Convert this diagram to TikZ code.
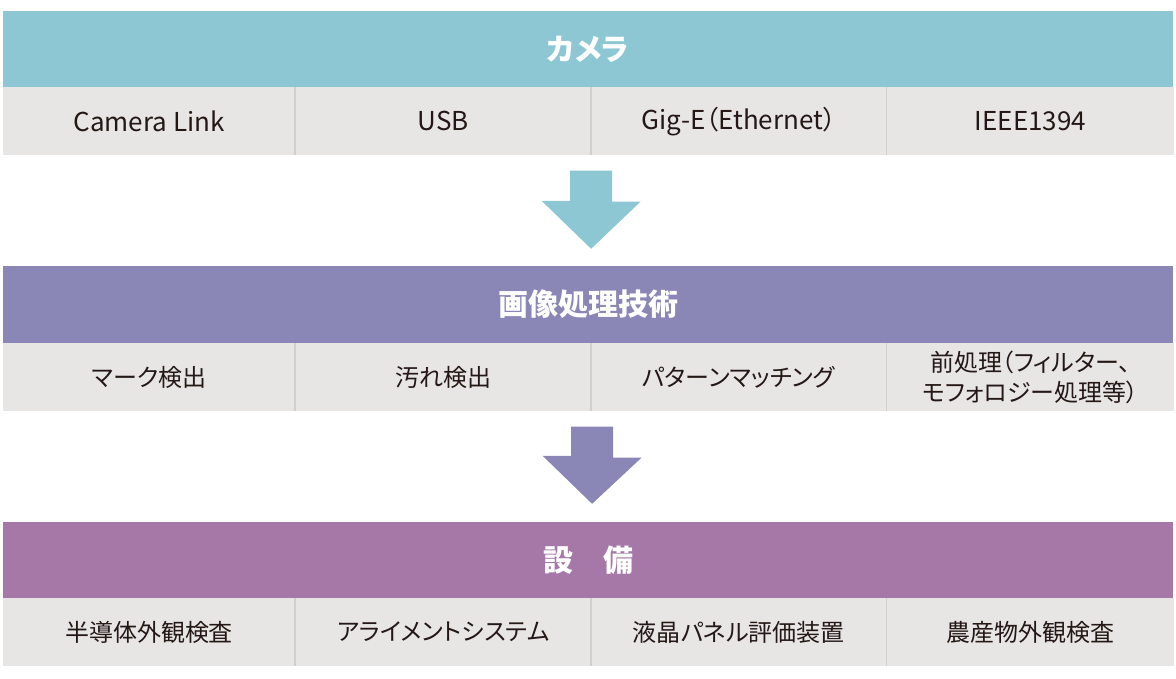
\documentclass[tikz,border=0pt]{standalone}
\usepackage{fontspec}
\setmainfont{Noto Sans CJK JP}[RawFeature=+palt]
\usetikzlibrary{positioning,calc}
\definecolor{camcol}{HTML}{8CC7D3}
\definecolor{imgcol}{HTML}{8A86B5}
\definecolor{equcol}{HTML}{A678A8}
\definecolor{cellgray}{HTML}{E8E6E5}
\definecolor{divcol}{HTML}{D2D0CE}
\definecolor{txtcol}{HTML}{231815}

\begin{document}
\begin{tikzpicture}[
            x=1pt, y=-1pt,
            node distance=0pt,
            header/.style={rectangle, inner sep=0pt, minimum width=1170pt, minimum height=76pt, text=white, font=\fontsize{30}{34}\selectfont\bfseries},
            cell/.style={rectangle, fill=cellgray, inner sep=0pt, minimum height=67.5pt, align=center, text=txtcol, font=\fontsize{24}{30}\selectfont},
            latin/.style={cell, font=\fontsize{26}{30}\selectfont},
            divider/.style={draw=divcol, line width=1.5pt},
            wA/.style={minimum width=292pt},
            wB/.style={minimum width=295.5pt},
            wC/.style={minimum width=295pt},
            wD/.style={minimum width=287.5pt}
        ]
            \useasboundingbox (0,0) rectangle (1176,678);

            % --- CAMERA ---
            \node[header, fill=camcol] (cam) at (588,49) {カメラ};
            \node[latin, wA, anchor=north west] (camA) at (cam.south west) {Camera Link};
            \node[latin, wB, right=of camA] (camB) {USB};
            \node[latin, wC, right=of camB] (camC) {Gig-E（Ethernet）};
            \node[latin, wD, right=of camC] (camD) {IEEE1394};

            % --- IMAGE PROCESSING ---
            \node[header, fill=imgcol, minimum height=77pt] (img) at (588,304.5) {画像処理技術};
            \node[cell, wA, anchor=north west] (imgA) at (img.south west) {マーク検出};
            \node[cell, wB, right=of imgA] (imgB) {汚れ検出};
            \node[cell, wC, right=of imgB] (imgC) {パターンマッチング};
            \node[cell, wD, right=of imgC] (imgD) {前処理（フィルター、\\モフォロジー処理等）};

            % --- EQUIPMENT ---
            \node[header, fill=equcol] (equ) at (588,560) {設\hspace{1em}備};
            \node[cell, wA, anchor=north west] (equA) at (equ.south west) {半導体外観検査};
            \node[cell, wB, right=of equA] (equB) {アライメントシステム};
            \node[cell, wC, right=of equB] (equC) {液晶パネル評価装置};
            \node[cell, wD, right=of equC] (equD) {農産物外観検査};

            % dividers
            \draw[divider] (camA.north east) -- (camA.south east);
            \draw[divider] (camB.north east) -- (camB.south east);
            \draw[divider] (camC.north east) -- (camC.south east);
            \draw[divider] (imgA.north east) -- (imgA.south east);
            \draw[divider] (imgB.north east) -- (imgB.south east);
            \draw[divider] (imgC.north east) -- (imgC.south east);
            \draw[divider] (equA.north east) -- (equA.south east);
            \draw[divider] (equB.north east) -- (equB.south east);
            \draw[divider] (equC.north east) -- (equC.south east);

            % --- ARROWS ---
            \coordinate (camOut) at ([yshift=-15.5pt]camC.south west);
            \coordinate (imgIn) at ([yshift=17pt]img.north -| camOut);
            \fill[camcol] (camOut) ++(-21,0) -- ++(42,0) -- ++(0,31) -- ++(28.5,0) -- (imgIn) -- ++(-49.5,-48) -- ++(28.5,0) -- cycle;

            \coordinate (imgOut) at ([yshift=-15.5pt,xshift=1pt]imgC.south west);
            \coordinate (equIn) at ([yshift=18pt]equ.north -| imgOut);
            \fill[imgcol] (imgOut) ++(-21,0) -- ++(42,0) -- ++(0,31) -- ++(28.5,0) -- (equIn) -- ++(-49.5,-48) -- ++(28.5,0) -- cycle;

        \end{tikzpicture}
\end{document}
